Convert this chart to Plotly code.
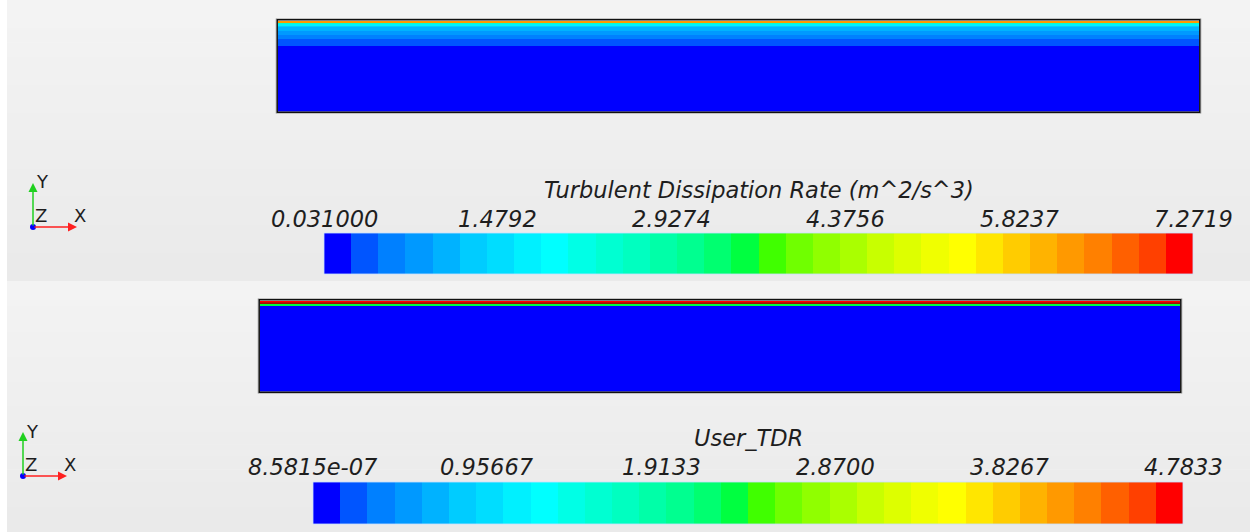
import numpy as np
import plotly.graph_objects as go

W, H = 1250, 532

# ---------------- data ----------------
# 32-level blue->red spectrum used by both legends
level_colors = [
    "#0000FF", "#0055FF", "#0080FF", "#0099FF", "#00B2FF", "#00CCFF", "#00DDFF", "#00F0FF",
    "#00FFFF", "#00FFE6", "#00FFD2", "#00FFC0", "#00FFA8", "#00FF90", "#00FF70", "#00FF40",
    "#40FF00", "#70FF00", "#90FF00", "#AAFF00", "#C8FF00", "#DDFF00", "#F0FF00", "#FFFF00",
    "#FFE600", "#FFCC00", "#FFB300", "#FF9900", "#FF8000", "#FF6000", "#FF4000", "#FF0000",
]

top_title = "Turbulent Dissipation Rate (m^2/s^3)"
top_min, top_max = 0.031, 7.2719
top_tick_labels = ["0.031000", "1.4792", "2.9274", "4.3756", "5.8237", "7.2719"]
# wall-normal mesh rows (normalised height, bottom -> top) and cell values
top_row_edges = [0.0, 0.728, 0.804, 0.848, 0.891, 0.930, 0.952, 0.972, 0.986, 1.0]
top_row_values = [0.10, 0.30, 0.55, 0.80, 1.00, 1.25, 1.75, 2.30, 6.20]

bot_title = "User_TDR"
bot_min, bot_max = 8.5815e-07, 4.7833
bot_tick_labels = ["8.5815e-07", "0.95667", "1.9133", "2.8700", "3.8267", "4.7833"]
bot_row_edges = [0.0, 0.955, 0.971, 1.0]
bot_row_values = [0.05, 2.35, 4.70]

# ---------------- helpers ----------------
def px(x):
    return x / W

def py(y):
    return 1 - y / H

def stepscale(colors):
    n = len(colors)
    cs = []
    for i, c in enumerate(colors):
        cs.append([i / n, c])
        cs.append([(i + 1) / n, c])
    return cs

cscale = stepscale(level_colors)
nlev = len(level_colors)

fig = go.Figure()

# panel geometry (pixels)
panels = [
    dict(field=(278, 1199, 20.5, 111.5), bar=(324, 1193, 233, 274), title_y=190, tick_y=219,
         vmin=top_min, vmax=top_max, edges=top_row_edges, vals=top_row_values,
         ticks=top_tick_labels, title=top_title, triad=(33, 227, 77, 183), dark=None),
    dict(field=(260, 1180, 300.5, 391.5), bar=(313, 1183, 482, 524), title_y=438, tick_y=467,
         vmin=bot_min, vmax=bot_max, edges=bot_row_edges, vals=bot_row_values,
         ticks=bot_tick_labels, title=bot_title, triad=(23, 476, 67, 432), dark=0.971),
]

shapes = []
annotations = []
layout_axes = {}

# background: two panels with light vertical gradient
for (y0, y1) in [(0, 281), (281, 532)]:
    n = 20
    for k in range(n):
        t = k / (n - 1)
        g = int(round(243 - 9 * t))
        col = f"rgb({g},{g},{g})"
        ya = y0 + (y1 - y0) * k / n
        yb = y0 + (y1 - y0) * (k + 1) / n + 0.6
        shapes.append(dict(type="rect", xref="paper", yref="paper", x0=px(7), x1=1,
                           y0=py(yb), y1=py(ya), fillcolor=col, line=dict(width=0), layer="below"))

font_it = dict(family="DejaVu Sans", size=22.5, color="#1e1e1e", style="italic")

ax_i = 1
for p in panels:
    # field: wall-normal cell rows drawn as stacked segments
    fx0, fx1, fy0, fy1 = p["field"]
    sfx = ax_i if ax_i > 1 else ''
    xa, ya = f"x{sfx}", f"y{sfx}"
    e = np.array(p["edges"])
    fig.add_trace(go.Bar(x=[0.5] * len(p["vals"]), y=np.diff(e), base=e[:-1], width=1.0,
                         marker=dict(color=p["vals"], colorscale=cscale, cmin=p["vmin"], cmax=p["vmax"],
                                     line=dict(width=0)),
                         hoverinfo="skip", xaxis=xa, yaxis=ya))
    layout_axes[f"xaxis{sfx}"] = dict(domain=[px(fx0), px(fx1)], range=[0, 1],
                                      visible=False, anchor=ya)
    layout_axes[f"yaxis{sfx}"] = dict(domain=[py(fy1), py(fy0)], range=[0, 1],
                                      visible=False, anchor=xa)
    if p["dark"] is not None:
        shapes.append(dict(type="line", xref=f"{xa} domain", yref=ya, x0=0, x1=1,
                           y0=p["dark"], y1=p["dark"], line=dict(color="#402010", width=0.8)))
    shapes.append(dict(type="rect", xref="paper", yref="paper", x0=px(fx0 - 2), x1=px(fx1 + 2),
                       y0=py(fy1 + 2), y1=py(fy0 - 2), line=dict(color="rgba(150,150,150,0.5)", width=1)))
    shapes.append(dict(type="rect", xref="paper", yref="paper", x0=px(fx0 - 0.8), x1=px(fx1 + 0.8),
                       y0=py(fy1 + 0.8), y1=py(fy0 - 0.8), line=dict(color="#111111", width=1.5)))
    ax_i += 1

    # legend bar
    bx0, bx1, by0, by1 = p["bar"]
    xa, ya = f"x{ax_i}", f"y{ax_i}"
    edges = np.linspace(p["vmin"], p["vmax"], nlev + 1)
    mids = (edges[:-1] + edges[1:]) / 2
    fig.add_trace(go.Heatmap(z=[mids], x=edges, y=[0, 1], colorscale=cscale,
                             zmin=p["vmin"], zmax=p["vmax"], showscale=False,
                             hoverinfo="skip", xaxis=xa, yaxis=ya))
    layout_axes[f"xaxis{ax_i}"] = dict(domain=[px(bx0), px(bx1)], range=[p["vmin"], p["vmax"]],
                                       visible=False, anchor=ya)
    layout_axes[f"yaxis{ax_i}"] = dict(domain=[py(by1), py(by0)], range=[0, 1],
                                       visible=False, anchor=xa)
    shapes.append(dict(type="rect", xref="paper", yref="paper", x0=px(bx0), x1=px(bx1),
                       y0=py(by1), y1=py(by0), line=dict(color="rgba(200,225,255,0.8)", width=1)))
    tick_vals = np.linspace(p["vmin"], p["vmax"], len(p["ticks"]))
    for tv, tt in zip(tick_vals, p["ticks"]):
        annotations.append(dict(x=tv, xref=xa, y=py(p["tick_y"]), yref="paper", text=tt,
                                showarrow=False, xanchor="center", yanchor="middle", font=font_it))
    annotations.append(dict(x=(p["vmin"] + p["vmax"]) / 2, xref=xa, y=py(p["title_y"]), yref="paper",
                            text=p["title"], showarrow=False, xanchor="center", yanchor="middle",
                            font=font_it))
    ax_i += 1

    # axis triad
    ox, oy, tx, ty = p["triad"]
    annotations.append(dict(x=px(tx), y=py(oy), xref="paper", yref="paper", text="", showarrow=True,
                            ax=ox - tx, ay=0, arrowcolor="#ff2020", arrowwidth=1.5, arrowhead=2,
                            arrowsize=1.2))
    annotations.append(dict(x=px(ox), y=py(ty), xref="paper", yref="paper", text="", showarrow=True,
                            ax=0, ay=oy - ty, arrowcolor="#20d020", arrowwidth=1.5, arrowhead=2,
                            arrowsize=1.2))
    shapes.append(dict(type="circle", xref="paper", yref="paper", x0=px(ox - 3), x1=px(ox + 3),
                       y0=py(oy + 3), y1=py(oy - 3), fillcolor="#0000ff", line=dict(width=0)))
    tf = dict(family="DejaVu Sans", size=18, color="#1e1e1e")
    for (lx, ly, lt) in [(ox + 9, ty - 1, "Y"), (ox + 8, oy - 12, "Z"), (tx + 3, oy - 12, "X")]:
        annotations.append(dict(x=px(lx), y=py(ly), xref="paper", yref="paper", text=lt,
                                showarrow=False, xanchor="center", yanchor="middle", font=tf))

fig.update_layout(
    width=W, height=H, margin=dict(l=0, r=0, t=0, b=0),
    paper_bgcolor="white", plot_bgcolor="rgba(0,0,0,0)",
    showlegend=False, shapes=shapes, annotations=annotations, barmode="overlay", bargap=0,
    **layout_axes,
)

fig.write_html("out.html")
